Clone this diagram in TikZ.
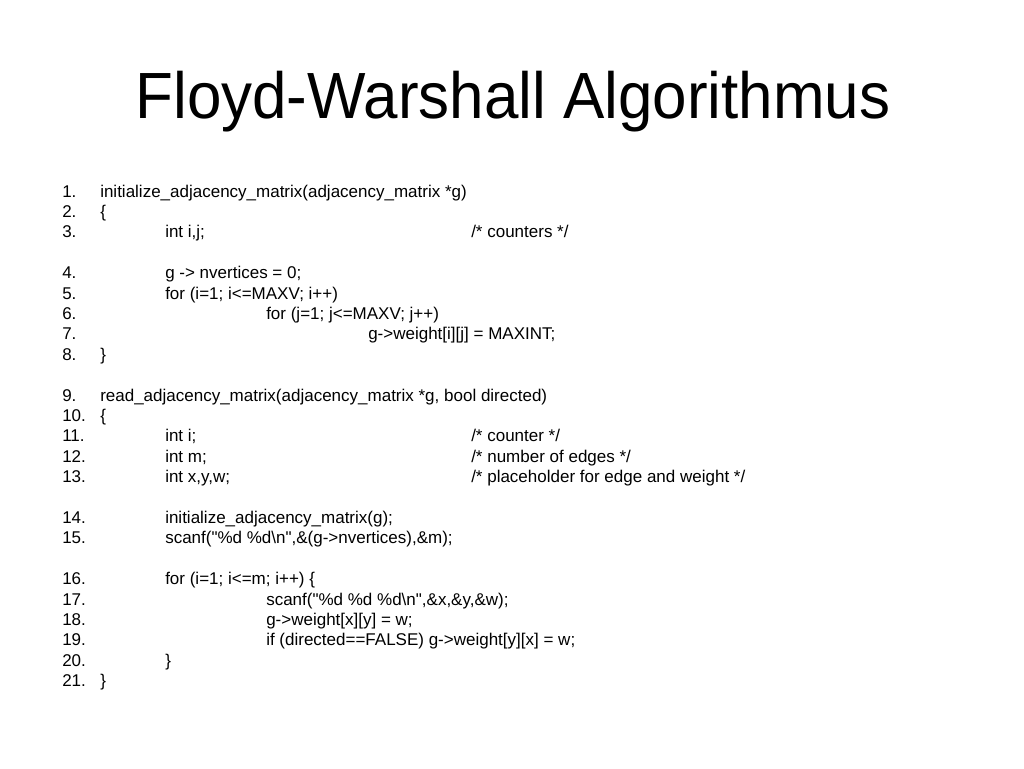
\documentclass[tikz,border=0pt]{standalone}
\usepackage{fontspec}
\setmainfont[Ligatures=TeXOff]{Liberation Sans}
\newfontfamily\titlefont[FakeStretch=0.948]{Liberation Sans}
\newcommand{\qq}{\symbol{34}}
\begin{document}
\begin{tikzpicture}[x=0.75pt,y=-0.75pt,
  code/.style={anchor=base west,inner sep=0pt,font=\fontsize{12.75pt}{15pt}\selectfont},
  ttl/.style={anchor=base,inner sep=0pt,font=\titlefont\fontsize{49pt}{58pt}\selectfont}]
\useasboundingbox[fill=white] (0,0) rectangle (1024,768);
\node[ttl] (title) at (513,118) {Floyd-Warshall Algorithmus};
\def\lh{20.4}
\def\yb{197}
\foreach \n/\r/\c/\t in {
 1/0/100/{initialize\_adjacency\_matrix(adjacency\_matrix *g)},
 2/1/100/{\{},
 3/2/165/{int i,j;},
 4/4/165/{g -> nvertices = 0;},
 5/5/165/{for (i=1; i<=MAXV; i++)},
 6/6/266/{for (j=1; j<=MAXV; j++)},
 7/7/368/{g->weight[i][j] = MAXINT;},
 8/8/100/{\}},
 9/10/100/{read\_adjacency\_matrix(adjacency\_matrix *g, bool directed)},
 10/11/100/{\{},
 11/12/165/{int i;},
 12/13/165/{int m;},
 13/14/165/{int x,y,w;},
 14/16/165/{initialize\_adjacency\_matrix(g);},
 15/17/165/{scanf(\qq\%d \%d\textbackslash n\qq,\&(g->nvertices),\&m);},
 16/19/165/{for (i=1; i<=m; i++) \{},
 17/20/266/{scanf(\qq\%d \%d \%d\textbackslash n\qq,\&x,\&y,\&w);},
 18/21/266/{g->weight[x][y] = w;},
 19/22/266/{if (directed==FALSE) g->weight[y][x] = w;},
 20/23/165/{\}},
 21/24/100/{\}}}
{
  \node[code] (n\n) at (62,\yb+\r*\lh) {\n.};
  \node[code] (l\n) at (\c,\yb+\r*\lh) {\t};
}
\node[code] (c3) at (471,\yb+2*\lh) {/* counters */};
\node[code] (c11) at (471,\yb+12*\lh) {/* counter */};
\node[code] (c12) at (471,\yb+13*\lh) {/* number of edges */};
\node[code] (c13) at (471,\yb+14*\lh) {/* placeholder for edge and weight */};
\end{tikzpicture}
\end{document}
